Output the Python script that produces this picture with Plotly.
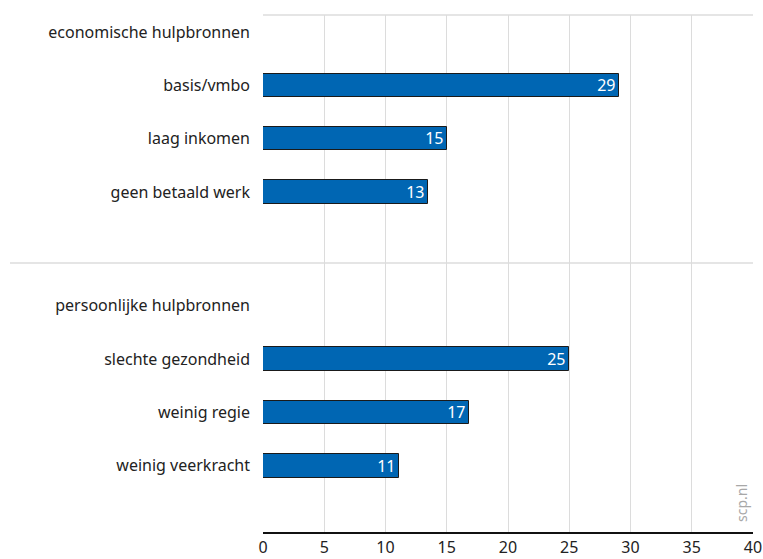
import plotly.graph_objects as go
from plotly.subplots import make_subplots

# data (percent)
econ_labels = ["economische hulpbronnen", "basis/vmbo", "laag inkomen", "geen betaald werk"]
econ_values = [None, 29.1, 15.0, 13.5]
econ_text = ["", "29", "15", "13"]

pers_labels = ["persoonlijke hulpbronnen", "slechte gezondheid", "weinig regie", "weinig veerkracht"]
pers_values = [None, 25.0, 16.8, 11.1]
pers_text = ["", "25", "17", "11"]

x_ticks = [0, 5, 10, 15, 20, 25, 30, 35, 40]

BLUE = "#0066b3"
GRID = "#dcdcdc"
FONT = "Noto Sans"

# plot area in pixels: top 15, separator 263, bottom 532, left 263, right 753
split = 269 / 517

fig = make_subplots(rows=2, cols=1, shared_xaxes=True, vertical_spacing=0)

for row, (labels, values, text) in enumerate(
        [(econ_labels, econ_values, econ_text), (pers_labels, pers_values, pers_text)], start=1):
    fig.add_trace(go.Bar(
        x=values, y=labels, orientation="h",
        width=0.44,
        marker=dict(color=BLUE, line=dict(color="#1a1a1a", width=1)),
        text=text, textposition="inside", insidetextanchor="end", textangle=0,
        constraintext="none",
        textfont=dict(color="white", size=16, family=FONT),
        cliponaxis=False, showlegend=False, hoverinfo="skip",
    ), row=row, col=1)

xaxis_style = dict(range=[0, 40], tickvals=x_ticks, showgrid=True, gridcolor=GRID,
                   gridwidth=1, zeroline=False, fixedrange=True, automargin=False)
fig.update_xaxes(**xaxis_style)
fig.update_xaxes(showline=True, linecolor="#111111", linewidth=1.5, ticks="",
                 tickfont=dict(size=16, color="#222222", family=FONT), row=2, col=1)

yaxis_style = dict(type="category", showgrid=False, zeroline=False, showline=False,
                   ticks="", ticklabelstandoff=12, automargin=False, fixedrange=True,
                   tickfont=dict(size=16, color="#222222", family=FONT))
fig.update_yaxes(**yaxis_style)
fig.update_layout(
    yaxis=dict(domain=[split, 1], range=[4.333, -0.324]),
    yaxis2=dict(domain=[0, split], range=[4.24, -0.798]),
)

fig.update_layout(
    width=763, height=559,
    margin=dict(l=263, r=10, t=15, b=27),
    paper_bgcolor="white", plot_bgcolor="white",
    font=dict(family=FONT, size=16, color="#222222"),
    bargap=0,
    shapes=[
        # top border
        dict(type="line", xref="paper", yref="paper", x0=0, x1=1, y0=1, y1=1,
             line=dict(color=GRID, width=1.5)),
        # separator between the two groups
        dict(type="line", xref="paper", yref="paper", x0=-253 / 490, x1=1, y0=split, y1=split,
             line=dict(color=GRID, width=1.5)),
    ],
    annotations=[
        dict(text="scp.nl", xref="paper", yref="paper", x=478 / 490, y=29 / 517,
             xanchor="center", yanchor="middle",
             showarrow=False, textangle=-90, font=dict(size=14, color="#a8a8a8", family=FONT)),
    ],
)

# drop the default body margin so the figure fills the window exactly
fig.write_html("out.html", config={"displayModeBar": False},
               post_script="document.body.style.margin='0';document.body.style.overflow='hidden';")
